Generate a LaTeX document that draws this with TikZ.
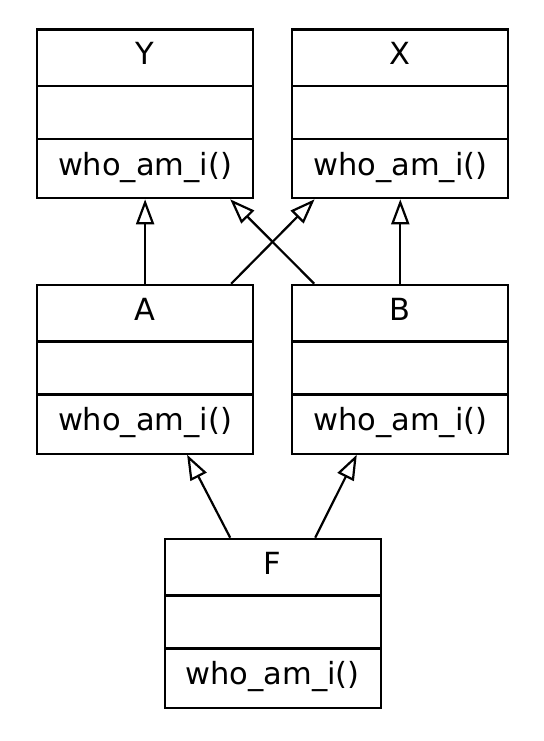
\documentclass[tikz,border=0pt]{standalone}
\usepackage{fontspec}
\setmainfont{DejaVu Sans}
\usetikzlibrary{arrows.meta, positioning, calc, shapes.multipart}
\newcommand{\classparts}[1]{\rule[-10.15pt]{0pt}{27.2pt}#1%
  \nodepart{two}\rule{0pt}{25.4pt}%
  \nodepart{three}\rule[-11pt]{0pt}{28.5pt}who\_am\_i()}

\begin{document}
\begin{tikzpicture}[
    node distance=42.2pt and 18.5pt,
    classbox/.style={rectangle split, rectangle split parts=3, draw, line width=1.1pt,
                     text width=108pt, align=center, inner xsep=0pt, inner ysep=0pt,
                     font=\fontsize{15.25}{18}\selectfont},
    inherit/.style={-{Triangle[open, length=12.5pt, width=9pt]}, line width=1.1pt}
]
    \useasboundingbox (0,0) rectangle (271.5pt,-370.5pt);

    \node[classbox, anchor=north west] (Y) at (18pt,-14.15pt) {\classparts{Y}};
    \node[classbox, right=of Y] (X) {\classparts{X}};
    \node[classbox, below=of Y] (A) {\classparts{A}};
    \node[classbox, below=of X] (B) {\classparts{B}};
    \node[classbox, below=41.5pt of $(A.south)!0.5!(B.south)$] (F) {\classparts{F}};

    \draw[inherit] (A) -- (Y);
    \draw[inherit] (B) -- (X);
    \draw[inherit] ([xshift=-11.5pt]A.north east) -- ([xshift=11.7pt]X.south west);
    \draw[inherit] ([xshift=11.5pt]B.north west) -- ([xshift=-12pt]Y.south east);
    \draw[inherit] ([xshift=-21.25pt]F.north) -- ([xshift=21pt]A.south);
    \draw[inherit] ([xshift=21.25pt]F.north) -- ([xshift=-21.75pt]B.south);
\end{tikzpicture}
\end{document}
